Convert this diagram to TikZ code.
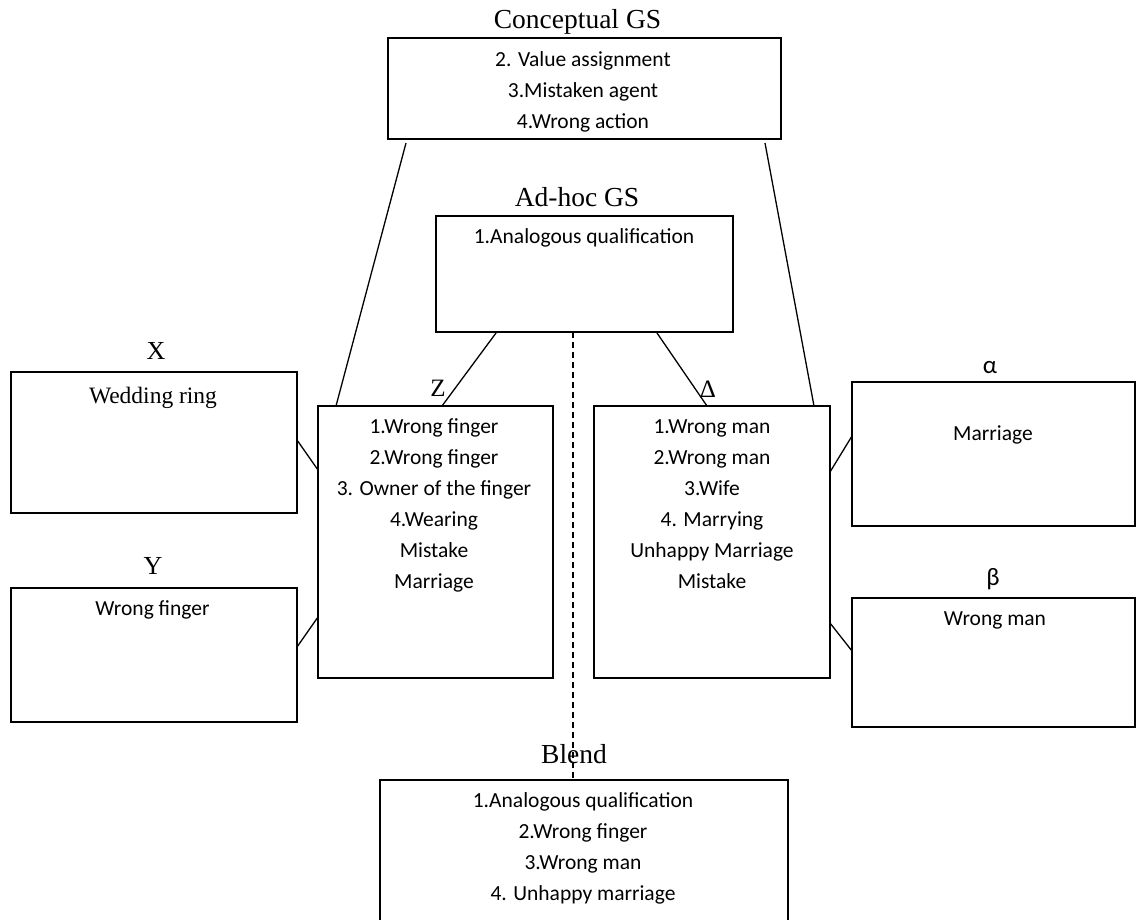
\documentclass[tikz,border=0pt]{standalone}
\usepackage{fontspec}
\setmainfont{Liberation Serif}
\newfontfamily\carlito{Carlito}
\usetikzlibrary{calc}
\begin{document}
\begin{tikzpicture}[x=1pt,y=-1pt,
  box/.style={draw, line width=1.4pt, inner sep=0pt, outer sep=0pt, rectangle},
  link/.style={line width=1.3pt},
  title/.style={font=\fontsize{27.5}{30}\selectfont, anchor=base, inner sep=0pt},
  tag/.style={font=\fontsize{26}{28}\selectfont, anchor=base, inner sep=0pt},
  smalltag/.style={font=\fontsize{25}{27}\selectfont, anchor=base, inner sep=0pt},
  greek/.style={font=\carlito\fontsize{25}{28}\selectfont, anchor=base, inner sep=0pt},
  body/.style={font=\carlito\fontsize{21.5}{31}\selectfont, align=center, inner sep=0pt, anchor=north},
  note/.style={font=\carlito\fontsize{21.5}{31}\selectfont, anchor=base, inner sep=0pt}
]
\clip (0,0) rectangle (1137,920);

% frames
\node[box, minimum width=393pt, minimum height=101pt] (cgs) at (584.5,88.5) {};
\node[box, minimum width=297pt, minimum height=116pt] (ah) at (584.5,274) {};
\node[box, minimum width=286pt, minimum height=141pt] (xb) at (154,442.5) {};
\node[box, minimum width=286pt, minimum height=134pt] (yb) at (154,655) {};
\node[box, minimum width=235pt, minimum height=272pt] (zb) at (435.5,542) {};
\node[box, minimum width=236pt, minimum height=272pt] (db) at (712,542) {};
\node[box, minimum width=283pt, minimum height=144pt] (ab) at (993.5,454) {};
\node[box, minimum width=283pt, minimum height=129pt] (bb) at (993.5,662.5) {};
\node[box, minimum width=408pt, minimum height=180pt] (bl) at (584,870) {};

% headings
\node[title] (cgst) at (577.5,29) {Conceptual GS};
\node[title] (aht) at (577,207) {Ad-hoc GS};
\node[title] (blt) at (574,763) {Blend};
\node[tag] (xt) at (156,359) {X};
\node[tag] (yt) at (153,574) {Y};
\node[smalltag] (zt) at (438,396) {Z};
\node[smalltag] (dt) at (708,397) {Δ};
\node[greek] (at) at (990,373) {α};
\node[greek] (bt) at (993,585) {β};

% contents
\node[body] (cgsx) at (583,44.3) {\strut 2. Value assignment\\ \strut 3.Mistaken agent\\ \strut 4.Wrong action};
\node[body] (ahx) at (584,221.3) {\strut 1.Analogous qualification};
\node[body] (zx) at (434,411.3) {\strut 1.Wrong finger\\ \strut 2.Wrong finger\\ \strut 3. Owner of the finger\\ \strut 4.Wearing\\ \strut Mistake\\ \strut Marriage};
\node[body] (dx) at (712,411.3) {\strut 1.Wrong man\\ \strut 2.Wrong man\\ \strut 3.Wife\\ \strut 4. Marrying\\ \strut Unhappy Marriage\\ \strut Mistake};
\node[body] (blx) at (583,785.3) {\strut 1.Analogous qualification\\ \strut 2.Wrong finger\\ \strut 3.Wrong man\\ \strut 4. Unhappy marriage};
\node[font=\fontsize{23.5}{26}\selectfont, anchor=base, inner sep=0pt] (xx) at (153,403) {Wedding ring};
\node[note] (yx) at (152.5,615) {Wrong finger};
\node[note] (ax) at (993,440) {Marriage};
\node[note] (bx) at (995,625) {Wrong man};

% connectors
\draw[link] ($(cgs.south west)+(18,4)$) -- ($(zb.north west)+(18,0)$);
\draw[link] ($(cgs.south east)+(-16,4)$) -- ($(db.north east)+(-16,0)$);
\draw[link] ($(ah.south west)+(60,1)$) -- ($(zb.north west)+(124,0)$);
\draw[link] ($(ah.south east)+(-76,1)$) -- ($(db.north west)+(113,0)$);
\draw[link] ($(xb.east)+(0,-2.5)$) -- ($(zb.west)+(0,-72)$);
\draw[link] ($(yb.east)+(0,-8)$) -- ($(zb.west)+(0,75)$);
\draw[link] ($(db.east)+(0,-70)$) -- ($(ab.west)+(0,-18)$);
\draw[link] ($(db.east)+(0,81)$) -- ($(bb.west)+(0,-11.5)$);
\coordinate (dtop) at ($(ah.south)+(-11.5,0)$);
\draw[line width=1.2pt, dash pattern=on 6pt off 4pt] (dtop) -- (dtop |- bl.north);
\end{tikzpicture}
\end{document}
